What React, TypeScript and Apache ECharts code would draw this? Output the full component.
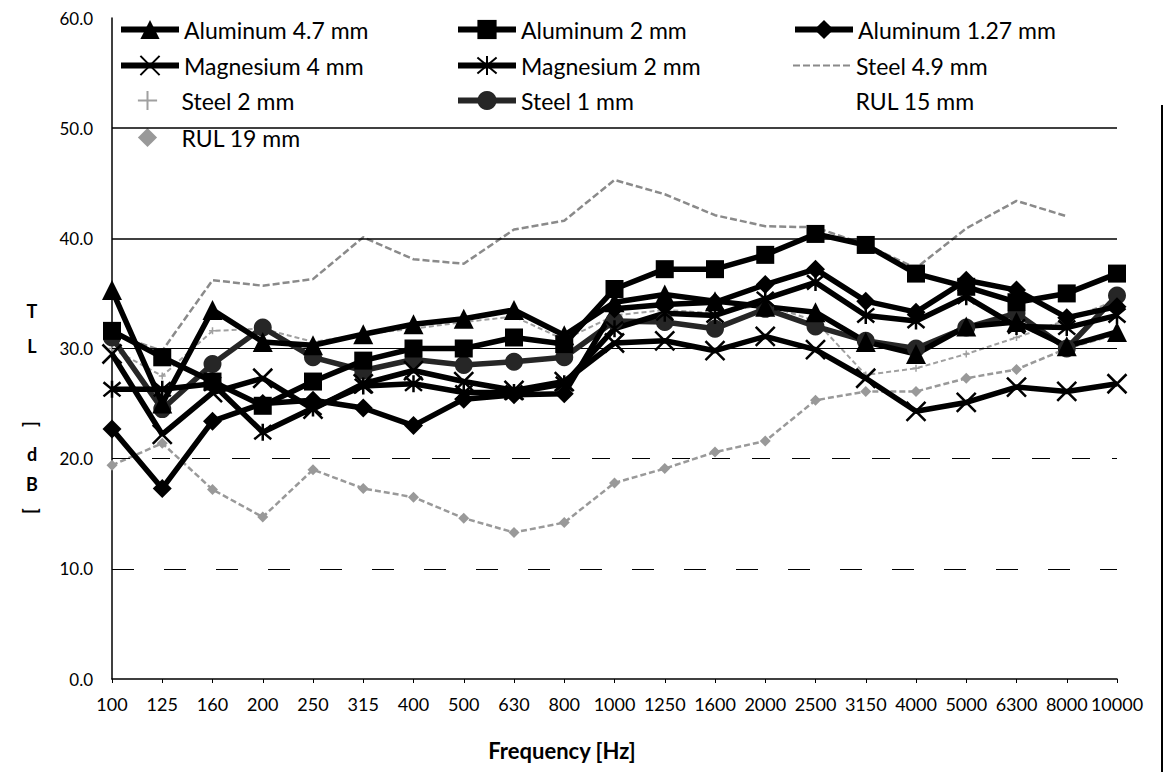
import React, { useEffect, useRef } from "react";
import * as echarts from "echarts";

const categories = ["100", "125", "160", "200", "250", "315", "400", "500", "630", "800", "1000", "1250", "1600", "2000", "2500", "3150", "4000", "5000", "6300", "8000", "10000"];

const alu47 = [35.3, 25.0, 33.5, 30.6, 30.3, 31.3, 32.2, 32.7, 33.5, 31.2, 34.2, 34.9, 34.3, 33.8, 33.3, 30.6, 29.5, 32.0, 32.4, 30.2, 31.5];
const alu2 = [31.6, 29.2, 27.0, 24.8, 27.0, 28.9, 30.0, 30.0, 31.0, 30.4, 35.4, 37.2, 37.2, 38.5, 40.4, 39.4, 36.8, 35.6, 34.2, 35.0, 36.8];
const alu127 = [22.7, 17.3, 23.4, 25.0, 25.3, 24.6, 23.0, 25.4, 25.8, 25.9, 33.6, 34.0, 34.2, 35.8, 37.2, 34.3, 33.3, 36.2, 35.3, 32.8, 33.8];
const mag4 = [29.5, 22.2, 26.0, 27.3, 24.5, 26.8, 28.0, 27.0, 26.2, 27.0, 30.5, 30.7, 29.8, 31.1, 29.9, 27.3, 24.3, 25.1, 26.5, 26.1, 26.8];
const mag2 = [26.3, 26.3, 26.8, 22.4, 24.6, 26.6, 26.8, 26.0, 26.0, 26.8, 31.8, 33.2, 33.0, 34.5, 36.0, 33.0, 32.5, 34.7, 32.0, 31.9, 33.0];
const steel49 = [31.3, 29.8, 36.2, 35.7, 36.3, 40.1, 38.1, 37.7, 40.8, 41.6, 45.3, 44.0, 42.1, 41.1, 41.0, 39.4, 37.3, 40.9, 43.4, 42.0, null];
const steel2 = [30.0, 27.5, 31.6, 31.8, 30.6, 31.3, 31.8, 32.4, 32.9, 30.8, 33.0, 33.5, 33.2, 34.0, 32.5, 27.6, 28.2, 29.5, 31.0, 32.6, 34.4];
const steel1 = [31.0, 24.5, 28.6, 31.9, 29.2, 28.0, 29.0, 28.5, 28.8, 29.2, 32.5, 32.4, 31.8, 33.6, 32.0, 30.7, 30.0, 31.9, 33.2, 30.0, 34.8];
const rul15 = [null, null, null, null, null, null, null, null, null, null, null, null, null, null, null, null, null, null, null, null, null];
const rul19 = [19.4, 21.4, 17.2, 14.7, 19.0, 17.3, 16.5, 14.6, 13.3, 14.2, 17.8, 19.1, 20.6, 21.6, 25.3, 26.1, 26.1, 27.3, 28.1, 30.0, 31.3];

const FONT = "Lato, 'Open Sans', sans-serif";
const X_SYM = "path://M0,0L10,10M10,0L0,10";
const AST_SYM = "path://M0,0L10,10M10,0L0,10M5,-1L5,11";
const PLUS_SYM = "path://M5,0L5,10M0,5L10,5";

function blackSeries(name: string, data: (number | null)[], symbol: string, size: number, stroke: number, color = "#000") {
  return {
    name,
    type: "line",
    data,
    symbol,
    symbolSize: size,
    showSymbol: true,
    lineStyle: { color, width: 5.5 },
    itemStyle: { color, borderColor: color, borderWidth: stroke },
    z: 5,
  };
}

type LegendSpec = { name: string; left: number; top: number; h: number; line: boolean; sym: boolean; lw: number };
const legendSpecs: LegendSpec[] = [
  { name: "Aluminum 4.7 mm", left: 113, top: 13, h: 24, line: true, sym: true, lw: 6 },
  { name: "Aluminum 2 mm", left: 450, top: 13, h: 24, line: true, sym: true, lw: 6 },
  { name: "Aluminum 1.27 mm", left: 787, top: 13, h: 24, line: true, sym: true, lw: 6 },
  { name: "Magnesium 4 mm", left: 113, top: 49, h: 24, line: true, sym: true, lw: 6 },
  { name: "Magnesium 2 mm", left: 450, top: 49, h: 24, line: true, sym: true, lw: 6 },
  { name: "Steel 4.9 mm", left: 787, top: 49, h: 24, line: true, sym: false, lw: 2 },
  { name: "Steel 2 mm", left: 113, top: 84, h: 24, line: false, sym: true, lw: 1 },
  { name: "Steel 1 mm", left: 450, top: 84, h: 24, line: true, sym: true, lw: 6 },
  { name: "RUL 15 mm", left: 787, top: 84, h: 24, line: false, sym: false, lw: 1 },
  { name: "RUL 19 mm", left: 113, top: 121, h: 24, line: false, sym: true, lw: 1 },
];

export default function App() {
  const ref = useRef<HTMLDivElement>(null);
  useEffect(() => {
    if (!ref.current) return;
    const chart = echarts.init(ref.current, null, { renderer: "svg" });
    const gridLine = (v: number, type: any, width: number) => ({
      yAxis: v,
      lineStyle: { color: "#000", type, width },
    });
    const txt = (t: string, x: number, y: number, rot = 0) => ({
      type: "text",
      x,
      y,
      rotation: rot,
      style: { text: t, font: `bold 18px ${FONT}`, fill: "#000", align: "center", verticalAlign: "middle" },
    });
    const option: any = {
      animation: false,
      backgroundColor: "#fff",
      grid: { left: 112, right: 50, top: 18, bottom: 93 },
      legend: legendSpecs.map((s) => ({
        data: [s.name],
        left: s.left,
        top: s.top,
        itemWidth: 58,
        itemHeight: s.h,
        itemGap: 0,
        textStyle: { fontSize: 23, fontFamily: FONT, color: "#000" },
        lineStyle: { width: s.lw, opacity: s.line ? 1 : 0 },
        itemStyle: { opacity: s.sym ? 1 : 0 },
        selectedMode: false,
      })),
      xAxis: {
        type: "category",
        data: categories,
        boundaryGap: false,
        axisLine: { lineStyle: { color: "#000", width: 1.5 } },
        axisTick: { show: true, length: 4, lineStyle: { color: "#000" } },
        axisLabel: { fontSize: 18, fontFamily: FONT, color: "#000", margin: 16, interval: 0 },
        splitLine: { show: false },
      },
      yAxis: {
        type: "value",
        min: 0,
        max: 60,
        interval: 10,
        axisLine: { show: true, lineStyle: { color: "#000", width: 1.5 } },
        axisTick: { show: false },
        axisLabel: {
          fontSize: 17,
          fontFamily: FONT,
          color: "#000",
          margin: 19,
          formatter: (v: number) => v.toFixed(1),
        },
        splitLine: { show: false },
      },
      graphic: [
        { type: "text", x: 562, y: 750, style: { text: "Frequency [Hz]", font: `bold 22px ${FONT}`, fill: "#000", align: "center", verticalAlign: "middle" } },
        txt("T", 32, 311),
        txt("L", 32, 346),
        txt("[", 32, 424, -Math.PI / 2),
        txt("d", 32, 454),
        txt("B", 32, 484),
        txt("]", 32, 511, -Math.PI / 2),
        { type: "line", shape: { x1: 1162, y1: 105, x2: 1162, y2: 772 }, style: { stroke: "#000", lineWidth: 2 } },
      ],
      series: [
        {
          name: "Steel 4.9 mm",
          type: "line",
          data: steel49,
          symbol: "none",
          lineStyle: { color: "#8a8a8a", width: 2.5, type: [7, 3] },
          itemStyle: { color: "#8a8a8a" },
          z: 2,
          markLine: {
            silent: true,
            symbol: ["none", "none"],
            label: { show: false },
            data: [
              gridLine(10, [22, 30], 1.2),
              gridLine(20, [18, 22], 1.2),
              gridLine(30, "solid", 1),
              gridLine(40, "solid", 1.5),
              gridLine(50, "solid", 1.5),
            ],
          },
        },
        {
          name: "RUL 19 mm",
          type: "line",
          data: rul19,
          symbol: "diamond",
          symbolSize: 11,
          lineStyle: { color: "#999", width: 2.5, type: [6, 3] },
          itemStyle: { color: "#999", borderColor: "#999", borderWidth: 0 },
          z: 2,
        },
        {
          name: "Steel 2 mm",
          type: "line",
          data: steel2,
          symbol: PLUS_SYM,
          symbolSize: 7,
          lineStyle: { color: "#a0a0a0", width: 2, type: [5, 3] },
          itemStyle: { color: "#a0a0a0", borderColor: "#a0a0a0", borderWidth: 1.5 },
          z: 2,
        },
        {
          name: "RUL 15 mm",
          type: "line",
          data: rul15,
          symbol: "none",
          lineStyle: { color: "#ffffff", width: 2 },
          itemStyle: { color: "#ffffff" },
          z: 1,
        },
        blackSeries("Steel 1 mm", steel1, "circle", 18, 0, "#262626"),
        blackSeries("Magnesium 2 mm", mag2, AST_SYM, 17, 2.5),
        blackSeries("Magnesium 4 mm", mag4, X_SYM, 19, 2.5),
        blackSeries("Aluminum 1.27 mm", alu127, "diamond", 19, 0),
        blackSeries("Aluminum 2 mm", alu2, "rect", 18, 0),
        blackSeries("Aluminum 4.7 mm", alu47, "triangle", 20, 0),
      ],
    };
    chart.setOption(option);
    return () => chart.dispose();
  }, []);
  return (
    <div
      ref={ref}
      style={{ position: "fixed", left: 0, top: 0, width: 1167, height: 772, background: "#fff" }}
    />
  );
}
